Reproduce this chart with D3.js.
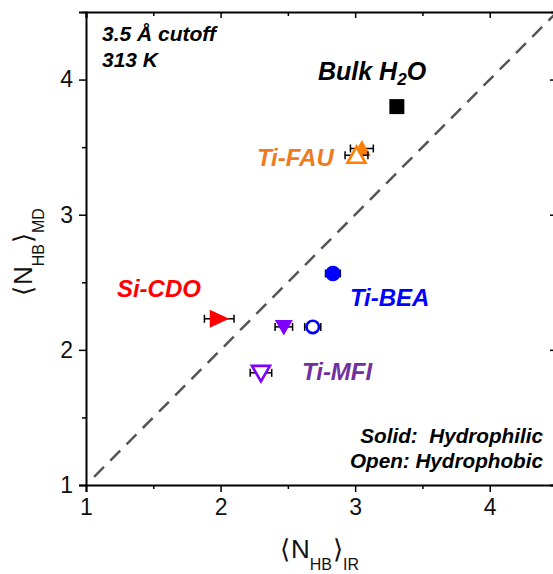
<!DOCTYPE html>
<html><head><meta charset="utf-8">
<script src="https://cdn.jsdelivr.net/npm/d3@7"></script>
<style>body{margin:0;background:#fff}svg{display:block}text{font-family:Arial,"Liberation Sans",sans-serif}</style>
</head><body>
<svg id="c" width="553" height="574"></svg>
<script>
// ---- data ----
const materials = ["Bulk H2O","Ti-FAU","Ti-FAU","Ti-BEA","Ti-BEA","Ti-MFI","Ti-MFI","Si-CDO"];
const fillKind  = ["solid","solid","open","solid","open","solid","open","solid"];
const shapes    = ["square","tri-up","tri-up","circle","circle","tri-down","tri-down","tri-right"];
const nHB_IR    = [3.31, 3.05, 3.01, 2.835, 2.685, 2.47, 2.30, 1.99];
const nHB_IRerr = [0, 0.085, 0.085, 0.055, 0.06, 0.065, 0.08, 0.11];
const nHB_MD    = [3.80, 3.49, 3.44, 2.565, 2.17, 2.17, 1.83, 2.23];
const xTicks = [1,2,3,4];
const yTicks = [1,2,3,4];
const labelNames = ["Bulk H2O","Ti-FAU","Ti-BEA","Ti-MFI","Si-CDO"];
const labelX = [2.724, 2.27, 2.961, 2.605, 1.23];
const labelY = [4.0, 3.364, 2.322, 1.775, 2.389];

const markerColor = {"Bulk H2O":"#000000","Ti-FAU":"#FF8000","Ti-BEA":"#0000FF","Ti-MFI":"#8000FF","Si-CDO":"#FF0000"};
const textColor = {"Bulk H2O":"#000000","Ti-FAU":"#EE7A22","Ti-BEA":"#0000FF","Ti-MFI":"#7030A0","Si-CDO":"#FF0000"};

const svg = d3.select("#c");
const x = d3.scaleLinear().domain([1,4.5]).range([86,557]);
const y = d3.scaleLinear().domain([1,4.5]).range([485,12]);

// dashed y=x line
svg.append("line").attr("x1",x(1.06)).attr("y1",y(1.06)).attr("x2",x(4.5)).attr("y2",y(4.5))
  .attr("stroke","#555").attr("stroke-width",2.5).attr("stroke-dasharray","14,9");

// axes
const fmt = d3.format("d");
const minor = d3.range(1.5,4.6,1);
function styleAxis(g){ g.select(".domain").attr("stroke","#000").attr("stroke-width",2); g.selectAll(".tick line").attr("stroke","#000").attr("stroke-width",1.5); }
const xb = svg.append("g").attr("transform",`translate(0,${y(1)})`)
  .call(d3.axisBottom(x).tickValues(xTicks).tickFormat(fmt).tickSizeOuter(0).tickSize(7).tickPadding(7));
styleAxis(xb);
xb.selectAll(".tick text").attr("font-size",23).attr("fill","#111").attr("font-family","Arial, 'Liberation Sans', sans-serif");
svg.append("g").attr("transform",`translate(0,${y(1)})`)
  .call(d3.axisBottom(x).tickValues(minor).tickFormat("").tickSizeOuter(0).tickSize(4)).call(styleAxis).select(".domain").remove();
const yl = svg.append("g").attr("transform",`translate(${x(1)},0)`)
  .call(d3.axisLeft(y).tickValues(yTicks).tickFormat(fmt).tickSizeOuter(0).tickSize(7).tickPadding(6));
styleAxis(yl);
yl.selectAll(".tick text").attr("font-size",23).attr("fill","#111").attr("font-family","Arial, 'Liberation Sans', sans-serif");
svg.append("g").attr("transform",`translate(${x(1)},0)`)
  .call(d3.axisLeft(y).tickValues(minor).tickFormat("").tickSizeOuter(0).tickSize(4)).call(styleAxis).select(".domain").remove();
// top & right mirror axes with inward ticks
const xt = svg.append("g").attr("transform",`translate(0,${y(4.5)})`)
  .call(d3.axisBottom(x).tickValues(xTicks.concat(minor)).tickFormat("").tickSizeOuter(0).tickSize(6));
styleAxis(xt);
xt.selectAll(".tick line").attr("y2",d=>Number.isInteger(d)?6:4);
const yr = svg.append("g").attr("transform",`translate(${x(4.5)},0)`)
  .call(d3.axisLeft(y).tickValues(yTicks.concat(minor)).tickFormat("").tickSizeOuter(0).tickSize(6));
styleAxis(yr);
yr.selectAll(".tick line").attr("x2",d=>Number.isInteger(d)?-7:-4);

// axis titles
function title(g, sub){
  g.append("tspan").text("\u27E8");
  g.append("tspan").attr("dx",1).text("N");
  g.append("tspan").attr("font-size",16).attr("dy",12).text("HB");
  g.append("tspan").attr("dy",-12).attr("dx",1).text("\u27E9");
  g.append("tspan").attr("font-size",16).attr("dy",12).text(sub);
}
const xtT = svg.append("text").attr("x",280).attr("y",558).attr("font-size",26).attr("fill","#111");
title(xtT,"IR");
const ytT = svg.append("text").attr("transform","translate(32,296) rotate(-90)").attr("font-size",26).attr("fill","#111");
title(ytT,"MD");

// data points
const pts = materials.map((m,i)=>({m, kind:fillKind[i], shape:shapes[i], xv:nHB_IR[i], xe:nHB_IRerr[i], yv:nHB_MD[i]}));
function shapePath(s){
  if(s==="square") return "M-7.5,-7.5H7.5V7.5H-7.5Z";
  if(s==="tri-up") return "M0,-8.5L9,7.5L-9,7.5Z";
  if(s==="tri-down") return "M-9,-7L9,-7L0,8.5Z";
  if(s==="tri-right") return "M-9.5,-9L10,0L-9.5,9Z";
  return null;
}
pts.forEach(p=>{
  const g = svg.append("g");
  if(p.xe>0){
    const x0=x(p.xv-p.xe), x1=x(p.xv+p.xe), yy=y(p.yv);
    g.append("line").attr("x1",x0).attr("x2",x1).attr("y1",yy).attr("y2",yy).attr("stroke","#000").attr("stroke-width",1.5);
    [x0,x1].forEach(xx=>g.append("line").attr("x1",xx).attr("x2",xx).attr("y1",yy-4).attr("y2",yy+4).attr("stroke","#000").attr("stroke-width",1.5));
  }
  const c = markerColor[p.m];
  const open = p.kind==="open";
  let mk;
  if(p.shape==="circle"){
    mk = g.append("circle").attr("cx",x(p.xv)).attr("cy",y(p.yv)).attr("r",open?6.2:7.8);
  } else {
    mk = g.append("path").attr("d",shapePath(p.shape)).attr("transform",`translate(${x(p.xv)},${y(p.yv)})`);
  }
  mk.attr("fill",open?"#fff":c).attr("stroke",open?c:"none").attr("stroke-width",open?2.6:0);
});

// labels
labelNames.forEach((n,i)=>{
  const t = svg.append("text").attr("x",x(labelX[i])).attr("y",y(labelY[i]))
    .attr("font-size",24).attr("font-weight","bold").attr("font-style","italic").attr("fill",textColor[n]);
  if(n==="Bulk H2O"){
    t.attr("font-size",25);
    t.append("tspan").text("Bulk H");
    t.append("tspan").attr("font-size",17).attr("dy",5).text("2");
    t.append("tspan").attr("dy",-5).text("O");
  } else t.text(n);
});

// notes
const notes = svg.append("g").attr("font-weight","bold").attr("font-style","italic").attr("fill","#000");
notes.append("text").attr("x",102).attr("y",41).attr("font-size",21).text("3.5 \u00C5 cutoff");
notes.append("text").attr("x",102).attr("y",67).attr("font-size",21).text("313 K");
notes.append("text").attr("x",543).attr("y",443).attr("font-size",20.7).attr("text-anchor","end").text("Solid:\u00A0 Hydrophilic");
notes.append("text").attr("x",543).attr("y",468).attr("font-size",20.7).attr("text-anchor","end").text("Open: Hydrophobic");
</script>
</body></html>
